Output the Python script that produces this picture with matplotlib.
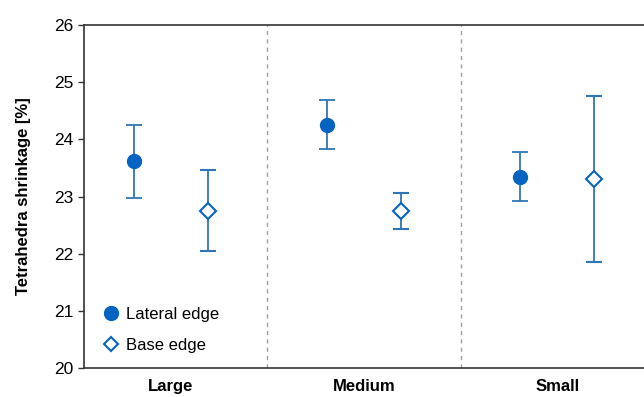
import matplotlib
matplotlib.use("Agg")
import matplotlib.pyplot as plt
from matplotlib.lines import Line2D

plt.rcParams['font.family'] = ['Liberation Sans', 'DejaVu Sans']

groups = ["Large", "Medium", "Small"]
lateral = [23.62, 24.25, 23.34]
lateral_lo = [22.98, 23.83, 22.92]
lateral_hi = [24.25, 24.69, 23.78]
base = [22.75, 22.75, 23.31]
base_lo = [22.05, 22.43, 21.86]
base_hi = [23.47, 23.06, 24.76]

blue = "#0563c1"
bar_blue = "#2e75b6"
off = 0.19

fig = plt.figure(figsize=(6.44, 3.97), dpi=100)
ax = fig.add_axes([0.1304, 0.073, 0.8696, 0.864])

xs = list(range(len(groups)))
xl = [x - off for x in xs]
xb = [x + off for x in xs]

ax.errorbar(xl, lateral,
            yerr=[[v - lo for v, lo in zip(lateral, lateral_lo)],
                  [hi - v for v, hi in zip(lateral, lateral_hi)]],
            fmt='o', color=blue, ecolor=bar_blue, elinewidth=1.3, capsize=6,
            capthick=1.3, markersize=10, zorder=3)
ax.errorbar(xb, base,
            yerr=[[v - lo for v, lo in zip(base, base_lo)],
                  [hi - v for v, hi in zip(base, base_hi)]],
            fmt='D', color=bar_blue, mfc='white', mec=blue, mew=1.5,
            ecolor=bar_blue, elinewidth=1.3, capsize=6, capthick=1.3,
            markersize=8, zorder=3)

for s in [0.5, 1.5]:
    ax.axvline(s, color="#a0a0a0", linestyle=(0, (3, 3)), linewidth=1)

ax.set_xlim(-0.45, 2.45)
ax.set_ylim(20, 26)
ax.set_yticks(range(20, 27))
ax.set_xticks(xs)
ax.set_xticklabels(groups, fontsize=12, fontweight='bold')
ax.tick_params(axis='x', length=0, pad=8)
ax.tick_params(axis='y', labelsize=12.5, length=4, width=1, color="#333333")
ax.set_ylabel("Tetrahedra shrinkage [%]", fontsize=12, fontweight='bold', labelpad=17)

ax.spines['right'].set_visible(False)
for sp in ['left', 'top', 'bottom']:
    ax.spines[sp].set_color("#333333")
    ax.spines[sp].set_linewidth(1.2)

handles = [
    Line2D([], [], linestyle='none', marker='o', color=blue, markersize=10),
    Line2D([], [], linestyle='none', marker='D', mfc='white', mec=blue, mew=1.5, markersize=7),
]
ax.legend(handles, ["Lateral edge", "Base edge"], loc='lower left', frameon=False,
          fontsize=12, handletextpad=0.1, labelspacing=0.95, handlelength=1.5,
          bbox_to_anchor=(0.0, 0.0))
fig.savefig("out.png", dpi=100)
